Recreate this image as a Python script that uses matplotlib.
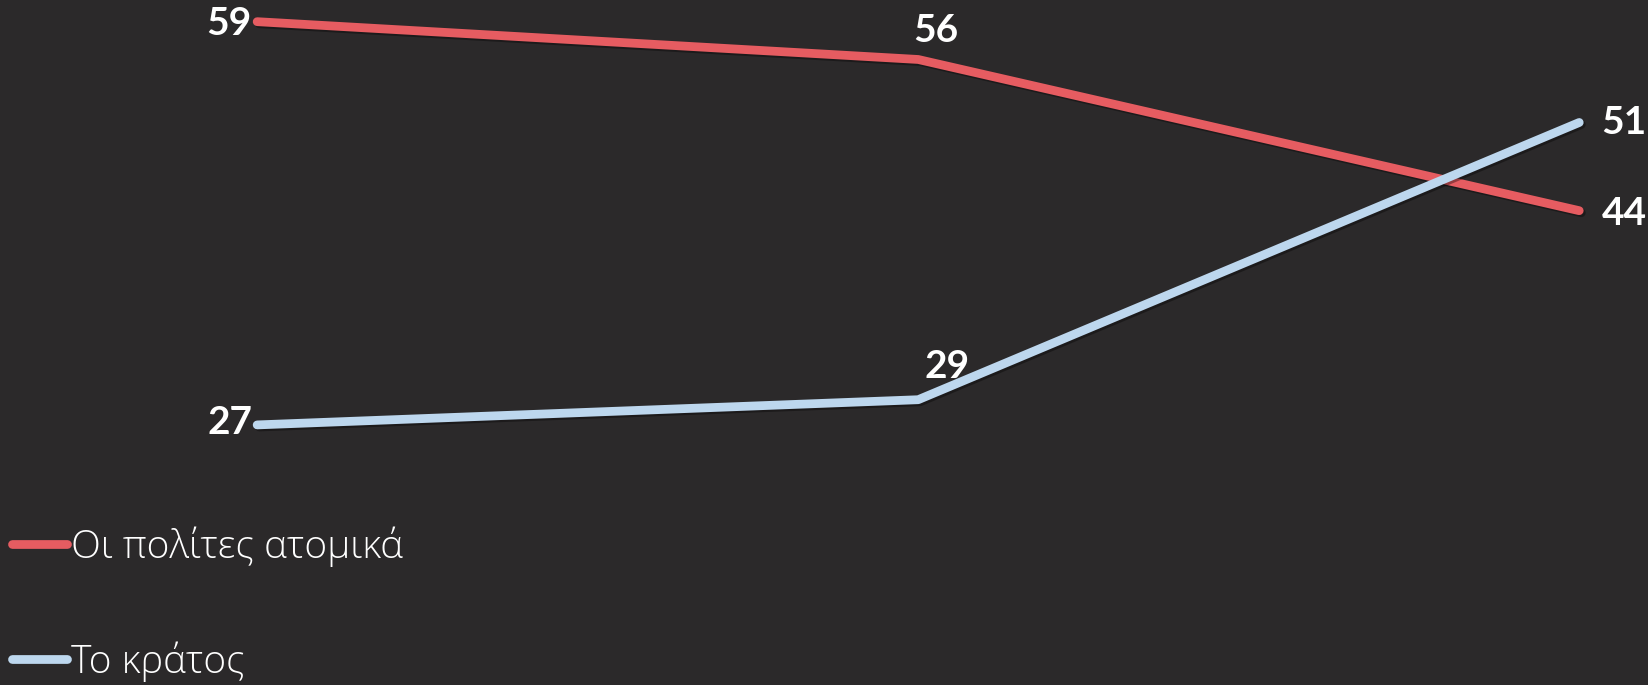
import matplotlib
matplotlib.use("Agg")
import matplotlib.pyplot as plt
import matplotlib.patheffects as pe

categories = ["A", "B", "C"]
citizens = [59, 56, 44]
state = [27, 29, 51]
series_names = ["Οι πολίτες ατομικά", "Το κράτος"]

bg = "#2b292a"
red = "#e65c61"
blue = "#bdd7ee"

fig = plt.figure(figsize=(16.48, 6.85), dpi=100, facecolor=bg)
ax = fig.add_axes([0, 0, 1, 1])
ax.set_facecolor(bg)

shadow = [pe.SimpleLineShadow(offset=(1.5, -1.5), alpha=0.35, shadow_color="black"), pe.Normal()]
x = list(range(len(categories)))

ax.plot(x, citizens, color=red, lw=6.3, solid_capstyle="round", path_effects=shadow, label=series_names[0])
ax.plot(x, state, color=blue, lw=6.3, solid_capstyle="round", path_effects=shadow, label=series_names[1])

ax.set_xlim(-0.389, 2.104)
ax.set_ylim(6.36, 60.72)
ax.axis("off")

label_font = dict(family=["Lato", "DejaVu Sans"], weight="bold", size=28, color="white")

# label offsets in points (dx, dy, ha)
citizen_pos = [(-4, -1, "right"), (13, 21, "center"), (16, -2, "left")]
state_pos = [(-3, 2, "right"), (21, 24, "center"), (16, 0, "left")]

for xi, v, (dx, dy, ha) in zip(x, citizens, citizen_pos):
    ax.annotate(str(v), (xi, v), xytext=(dx, dy), textcoords="offset points",
                ha=ha, va="center", **label_font)
for xi, v, (dx, dy, ha) in zip(x, state, state_pos):
    ax.annotate(str(v), (xi, v), xytext=(dx, dy), textcoords="offset points",
                ha=ha, va="center", **label_font)

leg = ax.legend(loc="upper left", bbox_to_anchor=(0.007, 0.232), frameon=False,
                prop=dict(family=["Open Sans", "DejaVu Sans"], weight="light", size=28),
                labelcolor="white", handlelength=1.42, handletextpad=0.12,
                labelspacing=1.92, borderaxespad=0, borderpad=0)
for line in leg.get_lines():
    line.set_linewidth(6.3)
    line.set_path_effects([])

fig.savefig("out.png", dpi=100, facecolor=bg)
